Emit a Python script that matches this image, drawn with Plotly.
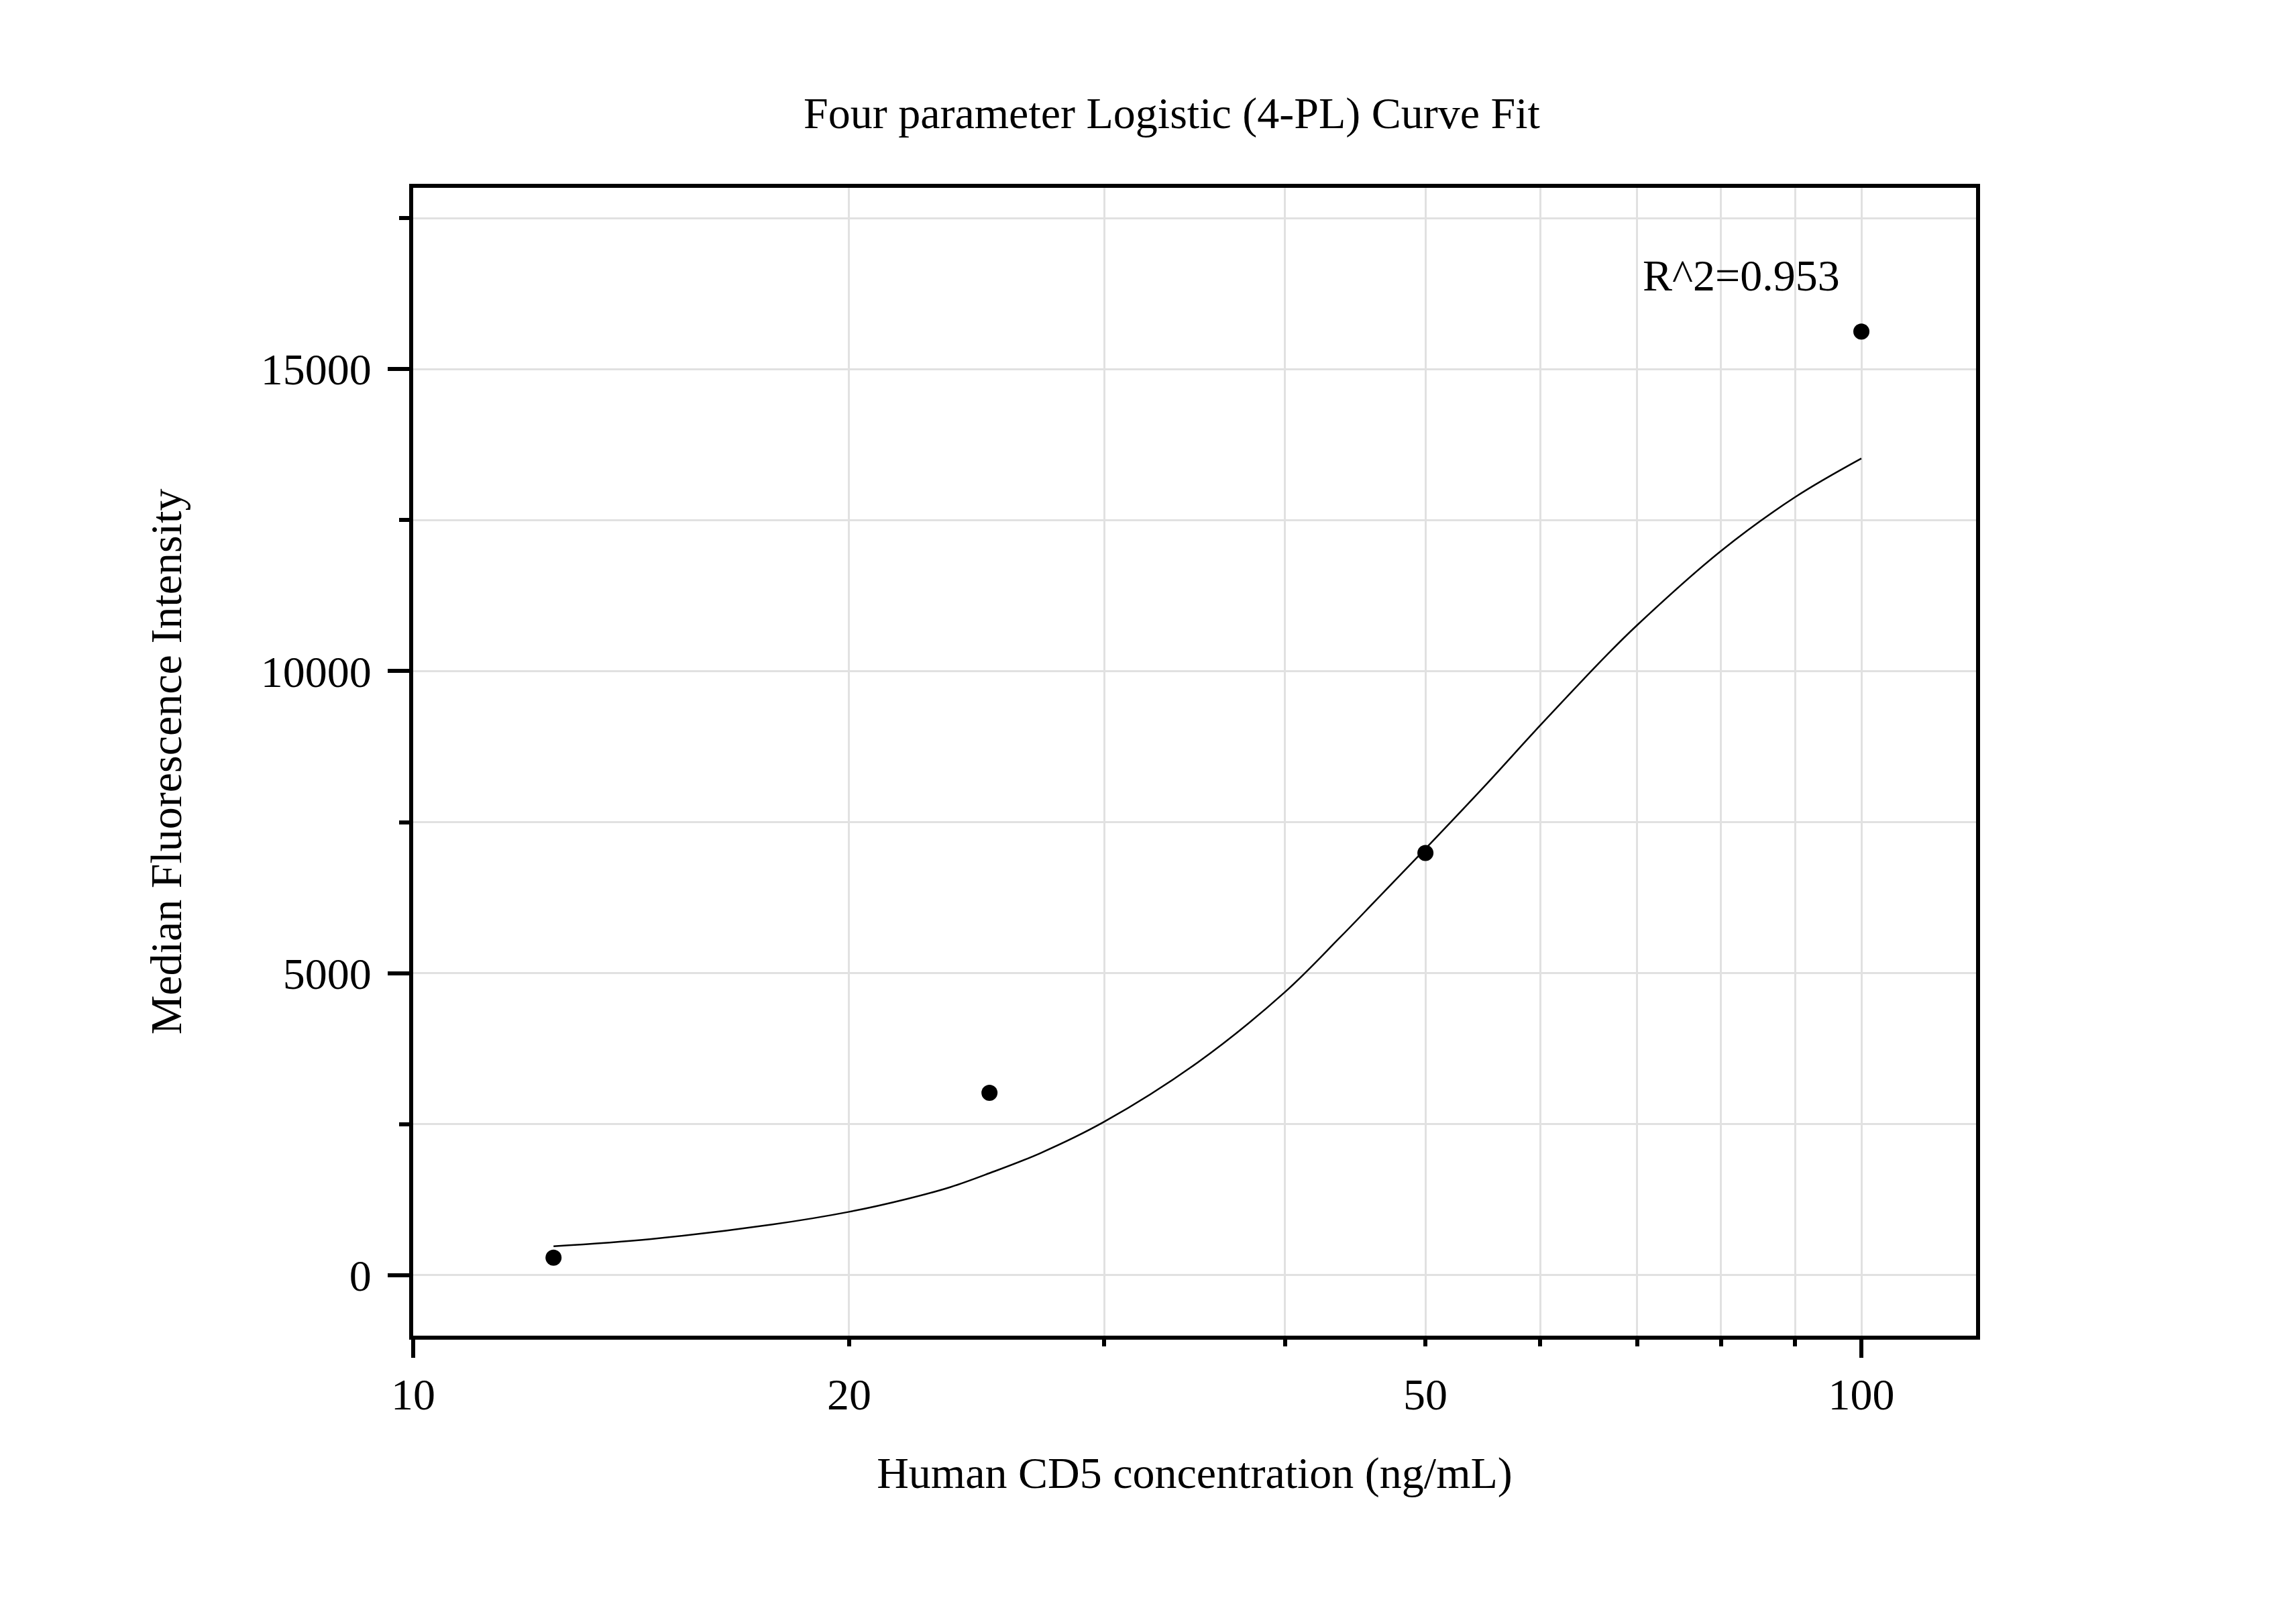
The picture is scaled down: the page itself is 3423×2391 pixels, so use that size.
import numpy as np
import plotly.graph_objects as go

# measured standards
conc = [12.5, 25, 50, 100]
mfi = [290, 3020, 6990, 15620]

# fitted 4-PL curve
fit_x = [12.5, 14.6, 17.7, 20, 21.9, 23.5, 25, 27.1, 30, 34.8, 40, 43.6, 46.1, 50, 55, 60, 66.8, 70, 80, 90, 100]
fit_y = [480, 600, 840, 1050, 1260, 1460, 1690, 2020, 2540, 3520, 4690, 5580, 6180, 7060, 8110, 9100, 10280,
         10760, 11990, 12880, 13520]

x_grid = [10, 20, 30, 40, 50, 60, 70, 80, 90, 100]
x_text = ["10", "20", "", "", "50", "", "", "", "", "100"]
x_major = [10, 100]
x_minor = [20, 30, 40, 50, 60, 70, 80, 90]

r2_text = "R^2=0.953"
FONT = "Liberation Serif, Times New Roman, serif"
FS = 66
xr = [1, np.log10(120)]

fig = go.Figure()
fig.add_trace(go.Scatter(x=fit_x, y=fit_y, mode="lines", line=dict(color="black", width=2.5, shape="spline"),
                         showlegend=False, hoverinfo="skip"))
fig.add_trace(go.Scatter(x=conc, y=mfi, mode="markers", marker=dict(color="black", size=24),
                         showlegend=False, xaxis="x2"))
fig.add_trace(go.Scatter(x=conc, y=mfi, mode="markers", marker=dict(color="rgba(0,0,0,0)", size=1),
                         showlegend=False, hoverinfo="skip", xaxis="x3"))

fig.update_layout(
    width=3423, height=2391,
    margin=dict(l=608, r=485, t=272, b=408),
    paper_bgcolor="white", plot_bgcolor="white",
    font=dict(family=FONT, size=FS, color="black"),
    title=dict(text="Four parameter Logistic (4-PL) Curve Fit", x=0.4854, xref="paper", xanchor="center",
               y=1 - 160 / 2391, yref="container", yanchor="middle", font=dict(size=FS)),
    xaxis=dict(type="log", range=xr, tickmode="array", tickvals=x_grid, ticktext=x_text,
               ticks="outside", ticklen=25, tickcolor="rgba(0,0,0,0)", tickfont=dict(size=FS),
               showgrid=True, gridcolor="#e1e1e1", gridwidth=3,
               showline=True, linecolor="black", linewidth=6, mirror=True, zeroline=False,
               title=dict(text="Human CD5 concentration (ng/mL)", standoff=60, font=dict(size=FS))),
    xaxis2=dict(type="log", range=xr, overlaying="x", anchor="y", side="bottom", tickmode="array",
                tickvals=x_major, ticks="outside", ticklen=32, tickwidth=6, tickcolor="black",
                showticklabels=False, showgrid=False, showline=False, zeroline=False),
    xaxis3=dict(type="log", range=xr, overlaying="x", anchor="y", side="bottom", tickmode="array",
                tickvals=x_minor, ticks="outside", ticklen=15, tickwidth=6, tickcolor="black",
                showticklabels=False, showgrid=False, showline=False, zeroline=False),
    yaxis=dict(range=[-1000, 18000], tickmode="linear", tick0=0, dtick=5000, tickformat="d",
               ticks="outside", ticklen=32, tickwidth=6, tickcolor="black", ticklabelstandoff=11,
               tickfont=dict(size=FS),
               minor=dict(tick0=0, dtick=2500, ticks="outside", ticklen=15, tickwidth=6, tickcolor="black",
                          showgrid=True, gridcolor="#e1e1e1", gridwidth=3),
               showgrid=True, gridcolor="#e1e1e1", gridwidth=3,
               showline=True, linecolor="black", linewidth=6, mirror=True, zeroline=False,
               title=dict(text="Median Fluorescence Intensity", standoff=99, font=dict(size=FS))),
)

fig.add_annotation(x=np.log10(82.6), y=16550, xref="x", yref="y", text=r2_text, showarrow=False,
                   font=dict(size=FS), xanchor="center", yanchor="middle")

fig.write_html("out.html")
